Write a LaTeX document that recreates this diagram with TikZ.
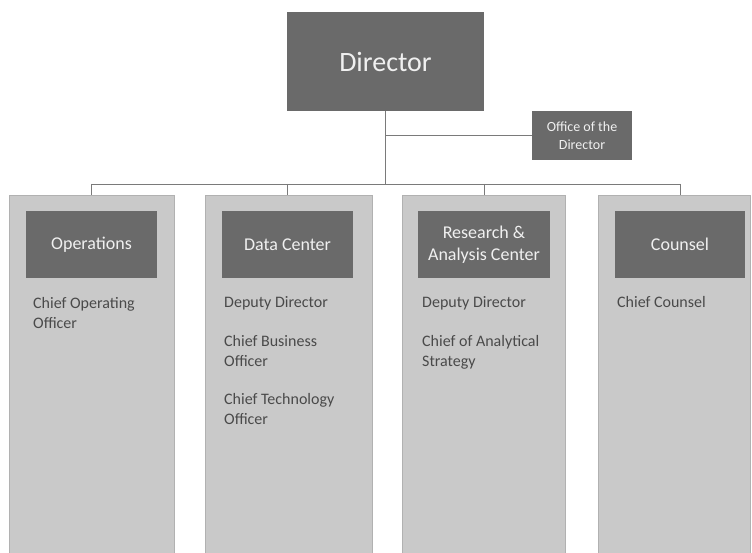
\documentclass[tikz,border=0pt]{standalone}
\usepackage{fontspec}
\setmainfont{Carlito}
\definecolor{boxgray}{HTML}{6A6A6A}
\definecolor{colgray}{HTML}{C9C9C9}
\definecolor{linegray}{HTML}{7A7A7A}
\definecolor{txtgray}{HTML}{4A4A4A}

\begin{document}
\begin{tikzpicture}[x = 1pt, y = -1pt,
	darkbox/.style = {fill = boxgray, text = white!94!black, inner sep = 0, align = center},
	headbox/.style = {darkbox, minimum width = 131, minimum height = 67, font = \fontsize{18}{22}\selectfont},
	column/.style = {fill = colgray, draw = colgray!88!black, line width = 0.4pt, anchor = north, minimum height = 358, inner sep = 0},
	staff/.style = {anchor = base west, inner sep = 0, align = left, text = txtgray, font = \fontsize{16}{20}\selectfont},
	link/.style = {draw = linegray, line width = 0.8pt}]
	
		\useasboundingbox (0, 0) rectangle (752, 553);
		
		\node[darkbox, minimum width = 197, minimum height = 99, font = \fontsize{28}{32}\selectfont] (dir) at (385.5, 61.5) {Director};
		\node[darkbox, minimum width = 100, minimum height = 49, font = \fontsize{14}{18}\selectfont] (off) at (582, 135.5) {Office of the\\Director};
		
		\node[column, minimum width = 165] (ops) at (91.5, 195) {};
		\node[column, minimum width = 167] (data) at (288.5, 195) {};
		\node[column, minimum width = 163] (res) at (483.5, 195) {};
		\node[column, minimum width = 152] (cou) at (674, 195) {};
		
		\node[headbox] (opshead) at (91.5, 244.5) {Operations};
		\node[headbox] (datahead) at (287.5, 244.5) {Data Center};
		\node[headbox, minimum width = 132] (reshead) at (484, 244.5) {Research \&\\Analysis Center};
		\node[headbox, minimum width = 130] (couhead) at (680, 244.5) {Counsel};
		
		% base of a two-line node is its last line
		\node[staff] (coo) at (33, 328) {Chief Operating\\Officer};
		
		\node[staff] (ddata) at (224, 308) {Deputy Director};
		\node[staff] (cbo) at (224, 366) {Chief Business\\Officer};
		\node[staff] (cto) at (224, 424) {Chief Technology\\Officer};
		
		\node[staff] (dres) at (422, 308) {Deputy Director};
		\node[staff] (cas) at (422, 366) {Chief of Analytical\\Strategy};
		
		\node[staff] (cc) at (617, 308) {Chief Counsel};
		
		\coordinate (bus) at (385.5, 184);
		\draw[link] (dir.south) -- (bus);
		\draw[link] (dir.south |- off.west) -- (off.west);
		\draw[link] (opshead |- bus) -- (couhead |- bus);
		\foreach \c in {ops, data, res, cou}
			\draw[link] (\c head |- bus) -- (\c head |- \c.north);
	
	\end{tikzpicture}
\end{document}
